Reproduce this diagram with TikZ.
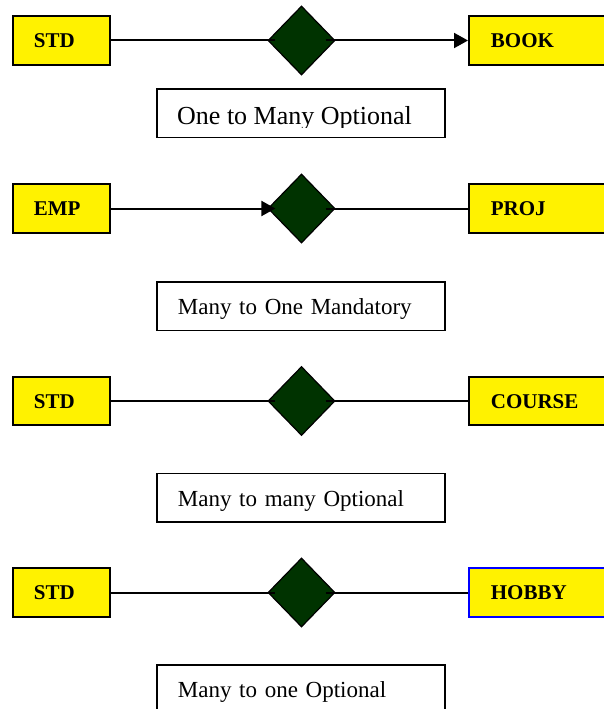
\documentclass[tikz,border=0pt]{standalone}
\usepackage{fontspec}
\setmainfont{Liberation Serif}
\usetikzlibrary{shapes.geometric,arrows.meta,calc}
\definecolor{relgreen}{RGB}{0,51,0}
\begin{document}
\begin{tikzpicture}[x=1pt,y=-1pt,
 entity/.style={draw=black, line width=1.8pt, fill=yellow, rectangle, inner ysep=0pt,
   minimum height=48.5pt, text height=14pt, text depth=0pt,
   font=\fontsize{21pt}{25pt}\selectfont\bfseries, align=left, anchor=west},
 leftent/.style={entity, text width=55pt, inner xsep=21pt},
 rightent/.style={entity, text width=110pt, inner xsep=22pt},
 rel/.style={diamond, draw=black, line width=1.2pt, fill=relgreen,
   minimum width=67pt, minimum height=69pt, inner sep=0pt},
 conn/.style={draw=black, line width=2pt},
 tip/.style={-{Triangle[length=14pt,width=15pt]}},
 labelbox/.style={draw=black, line width=1.8pt, rectangle, anchor=north west,
   minimum width=288pt, minimum height=48.5pt, text width=246pt, inner xsep=21pt,
   align=left, text height=17.5pt, text depth=0pt, font=\fontsize{23pt}{27pt}\selectfont}
]
\path[use as bounding box] (0,0) rectangle (604,709);
\clip (0,0) rectangle (604,709);

% Row 1
\node[leftent] (s1) at (12,40.5) {STD};
\node[rightent] (b1) at (468,40.5) {BOOK};
\node[rel] (d1) at (301.5,40.5) {};
\draw[conn] (s1.east) -- ($(d1.west)+(8,0)$);
\draw[conn,tip] ($(d1.east)-(10,0)$) -- (b1.west);
\node[labelbox] (l1) at (156,88) {};
\begin{scope}
\clip (156,88) rectangle (444,127);
\node[anchor=base west, inner sep=0pt, font=\fontsize{26pt}{30pt}\selectfont] (t1) at (177,124) {One to Many Optional};
\end{scope}

% Row 2
\node[leftent] (e2) at (12,208.5) {EMP};
\node[rightent] (p2) at (468,208.5) {PROJ};
\node[rel] (d2) at (301.5,208.5) {};
\draw[conn,tip] (e2.east) -- ($(d2.west)+(8,0)$);
\draw[conn] ($(d2.east)-(10,0)$) -- (p2.west);
\node[labelbox] (l2) at (156,281) {Many to One Mandatory};

% Row 3
\node[leftent] (s3) at (12,401) {STD};
\node[rightent] (c3) at (468,401) {COURSE};
\node[rel] (d3) at (301.5,401) {};
\draw[conn] (s3.east) -- ($(d3.west)+(8,0)$);
\draw[conn] ($(d3.east)-(10,0)$) -- (c3.west);
\node[labelbox] (l3) at (156,472.5) {Many to many Optional};

% Row 4
\node[leftent] (s4) at (12,592.5) {STD};
\node[rightent, draw=blue] (h4) at (468,592.5) {HOBBY};
\node[rel] (d4) at (301.5,592.5) {};
\draw[conn] (s4.east) -- ($(d4.west)+(8,0)$);
\draw[conn] ($(d4.east)-(10,0)$) -- (h4.west);
\node[labelbox] (l4) at (156,664) {Many to one Optional};
\end{tikzpicture}
\end{document}
